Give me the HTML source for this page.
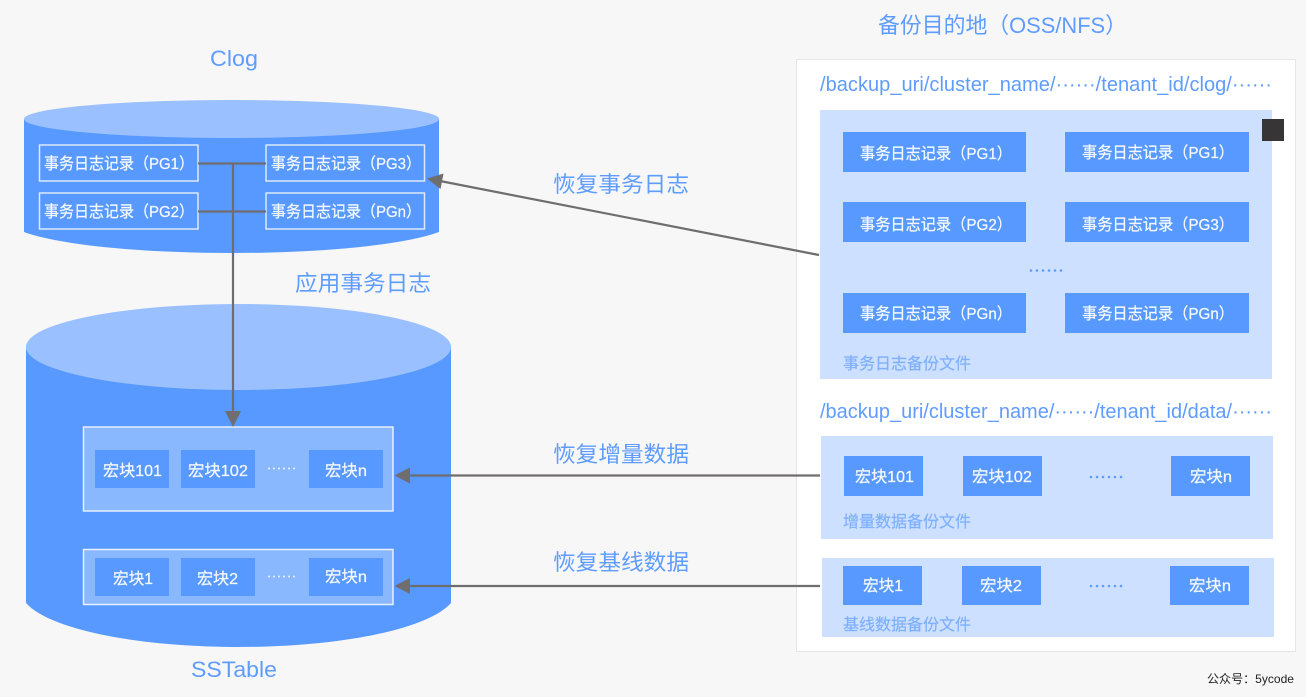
<!DOCTYPE html>
<html lang="zh">
<head>
<meta charset="utf-8">
<style>
html,body{margin:0;padding:0;background:#f7f7f7;width:1306px;height:697px;overflow:hidden}
svg{display:block;filter:blur(.35px)}
text{font-family:"Liberation Sans","Noto Sans CJK SC",sans-serif}
.t{fill:#5f9cff;font-size:22px}
.w{fill:#f4f8ff;font-size:16px;stroke:#f4f8ff;stroke-width:.25}
.c{fill:#7fb0ff;font-size:16px;stroke:#7fb0ff;stroke-width:.2}
.b{fill:#5799ff}
.o{fill:none;stroke:#dce9ff;stroke-width:1.5}
.l{stroke:#6f6d6d;stroke-width:2.2;fill:none}
.h{fill:#6f6d6d}
.p{fill:#cde0ff}
</style>
</head>
<body>
<svg width="1306" height="697" viewBox="0 0 1306 697" xmlns="http://www.w3.org/2000/svg">
<rect width="1306" height="697" fill="#f7f7f7"/>

<!-- Clog cylinder -->
<path class="b" d="M24 119V232C60 245 140 253 231.500 253S403 245 439 232V119Z"/>
<ellipse cx="231.500" cy="119" rx="207.500" ry="19" fill="#9bc0ff"/>
<g class="o">
<rect x="39.500" y="145" width="158.500" height="36"/>
<rect x="39.500" y="193" width="158.500" height="36"/>
<rect x="266" y="145" width="158.500" height="36"/>
<rect x="266" y="193" width="158.500" height="36"/>
</g>
<text class="w" x="44" y="169" textLength="150" lengthAdjust="spacingAndGlyphs">事务日志记录（PG1）</text>
<text class="w" x="44" y="217" textLength="150" lengthAdjust="spacingAndGlyphs">事务日志记录（PG2）</text>
<text class="w" x="271" y="169" textLength="150" lengthAdjust="spacingAndGlyphs">事务日志记录（PG3）</text>
<text class="w" x="271" y="217" textLength="150" lengthAdjust="spacingAndGlyphs">事务日志记录（PGn）</text>

<!-- SSTable cylinder -->
<path class="b" d="M26 347V603C50 630 140 647 238.500 647S427 630 451 603V347Z"/>
<ellipse cx="238.500" cy="347" rx="212.500" ry="43" fill="#9bc0ff"/>
<rect x="83.500" y="427" width="309.500" height="84" fill="#8ab8ff" stroke="#e6f0ff" stroke-width="1.500"/>
<rect x="83.500" y="549.500" width="309.500" height="55" fill="#8ab8ff" stroke="#e6f0ff" stroke-width="1.500"/>
<g class="b">
<rect x="95" y="450" width="74" height="38"/>
<rect x="181" y="450" width="74" height="38"/>
<rect x="309" y="450" width="74" height="38"/>
<rect x="95" y="558" width="74" height="38"/>
<rect x="181" y="558" width="74" height="38"/>
<rect x="309" y="558" width="74" height="38"/>
</g>
<g>
<text class="w" x="103" y="476" textLength="59" lengthAdjust="spacingAndGlyphs">宏块101</text>
<text class="w" x="188" y="476" textLength="60" lengthAdjust="spacingAndGlyphs">宏块102</text>
<text class="w" x="325" y="476" textLength="42" lengthAdjust="spacingAndGlyphs">宏块n</text>
<text class="w" x="113" y="584" textLength="40" lengthAdjust="spacingAndGlyphs">宏块1</text>
<text class="w" x="197" y="584" textLength="41" lengthAdjust="spacingAndGlyphs">宏块2</text>
<text class="w" x="325" y="582" textLength="42" lengthAdjust="spacingAndGlyphs">宏块n</text>
</g>
<g fill="#eef4ff">
<circle cx="269" cy="468.500" r="1"/><circle cx="274" cy="468.500" r="1"/><circle cx="279" cy="468.500" r="1"/><circle cx="284" cy="468.500" r="1"/><circle cx="289" cy="468.500" r="1"/><circle cx="294" cy="468.500" r="1"/>
<circle cx="269" cy="576.500" r="1"/><circle cx="274" cy="576.500" r="1"/><circle cx="279" cy="576.500" r="1"/><circle cx="284" cy="576.500" r="1"/><circle cx="289" cy="576.500" r="1"/><circle cx="294" cy="576.500" r="1"/>
</g>

<!-- Right panel -->
<rect x="796.500" y="59.500" width="499" height="592" fill="#fff" stroke="#cfcfcf" stroke-width="1" stroke-dasharray="1 1"/>
<text class="t" x="820" y="91" style="font-size:20px" textLength="452" lengthAdjust="spacingAndGlyphs">/backup_uri/cluster_name/······/tenant_id/clog/······</text>
<text class="t" x="820" y="418" style="font-size:20px" textLength="452" lengthAdjust="spacingAndGlyphs">/backup_uri/cluster_name/······/tenant_id/data/······</text>

<rect class="p" x="820" y="110" width="452" height="269"/>
<rect class="p" x="821" y="436" width="452" height="103"/>
<rect class="p" x="822" y="558" width="452" height="79"/>
<rect x="1262" y="119" width="22" height="22" fill="#373535"/>

<g class="b">
<rect x="843" y="132" width="183" height="40"/>
<rect x="1065" y="132" width="184" height="40"/>
<rect x="843" y="202" width="183" height="40"/>
<rect x="1065" y="202" width="184" height="40"/>
<rect x="843" y="293" width="183" height="40"/>
<rect x="1065" y="293" width="184" height="40"/>
<rect x="844" y="456" width="79" height="40"/>
<rect x="963" y="456" width="79" height="40"/>
<rect x="1171" y="456" width="79" height="40"/>
<rect x="843" y="566" width="79" height="39"/>
<rect x="962" y="566" width="79" height="39"/>
<rect x="1170" y="566" width="79" height="39"/>
</g>
<g>
<text class="w" x="860" y="159" textLength="152" lengthAdjust="spacingAndGlyphs">事务日志记录（PG1）</text>
<text class="w" x="1082" y="158" textLength="152" lengthAdjust="spacingAndGlyphs">事务日志记录（PG1）</text>
<text class="w" x="860" y="230" textLength="152" lengthAdjust="spacingAndGlyphs">事务日志记录（PG2）</text>
<text class="w" x="1082" y="230" textLength="152" lengthAdjust="spacingAndGlyphs">事务日志记录（PG3）</text>
<text class="w" x="860" y="319" textLength="152" lengthAdjust="spacingAndGlyphs">事务日志记录（PGn）</text>
<text class="w" x="1082" y="319" textLength="152" lengthAdjust="spacingAndGlyphs">事务日志记录（PGn）</text>
<text class="w" x="855" y="482" textLength="59" lengthAdjust="spacingAndGlyphs">宏块101</text>
<text class="w" x="972" y="482" textLength="60" lengthAdjust="spacingAndGlyphs">宏块102</text>
<text class="w" x="1190" y="482" textLength="42" lengthAdjust="spacingAndGlyphs">宏块n</text>
<text class="w" x="863" y="591" textLength="40" lengthAdjust="spacingAndGlyphs">宏块1</text>
<text class="w" x="980" y="591" textLength="42" lengthAdjust="spacingAndGlyphs">宏块2</text>
<text class="w" x="1189" y="591" textLength="42" lengthAdjust="spacingAndGlyphs">宏块n</text>
</g>
<g>
<text class="c" x="843" y="369" textLength="128" lengthAdjust="spacingAndGlyphs">事务日志备份文件</text>
<text class="c" x="843" y="527" textLength="128" lengthAdjust="spacingAndGlyphs">增量数据备份文件</text>
<text class="c" x="843" y="630" textLength="128" lengthAdjust="spacingAndGlyphs">基线数据备份文件</text>
</g>
<g fill="#5f9cff">
<circle cx="1031" cy="270.500" r="1.300"/><circle cx="1037" cy="270.500" r="1.300"/><circle cx="1043" cy="270.500" r="1.300"/><circle cx="1049" cy="270.500" r="1.300"/><circle cx="1055" cy="270.500" r="1.300"/><circle cx="1061" cy="270.500" r="1.300"/>
<circle cx="1091" cy="477" r="1.300"/><circle cx="1097" cy="477" r="1.300"/><circle cx="1103" cy="477" r="1.300"/><circle cx="1109" cy="477" r="1.300"/><circle cx="1115" cy="477" r="1.300"/><circle cx="1121" cy="477" r="1.300"/>
<circle cx="1091" cy="586" r="1.300"/><circle cx="1097" cy="586" r="1.300"/><circle cx="1103" cy="586" r="1.300"/><circle cx="1109" cy="586" r="1.300"/><circle cx="1115" cy="586" r="1.300"/><circle cx="1121" cy="586" r="1.300"/>
</g>

<!-- Connectors -->
<path class="l" d="M198 163.500H266M198 211.500H266M233 163.500V414"/>
<path class="h" d="M233 427L225 411H241Z"/>
<path class="l" d="M819 255L440 181"/>
<path class="h" d="M427 178.500L443.500 173.500L440.500 189Z"/>
<path class="l" d="M820 475.500H408"/>
<path class="h" d="M394.500 475.500L410 467.500V483.500Z"/>
<path class="l" d="M820 586H408"/>
<path class="h" d="M394.500 586L410 578V594Z"/>

<!-- Titles -->
<text class="t" x="210" y="66" textLength="48" lengthAdjust="spacingAndGlyphs">Clog</text>
<text class="t" x="878" y="33" textLength="249" lengthAdjust="spacingAndGlyphs">备份目的地（OSS/NFS）</text>
<text class="t" x="553" y="192" textLength="136" lengthAdjust="spacingAndGlyphs">恢复事务日志</text>
<text class="t" x="295" y="291" textLength="136" lengthAdjust="spacingAndGlyphs">应用事务日志</text>
<text class="t" x="553" y="462" textLength="136" lengthAdjust="spacingAndGlyphs">恢复增量数据</text>
<text class="t" x="553" y="570" textLength="136" lengthAdjust="spacingAndGlyphs">恢复基线数据</text>
<text class="t" x="191" y="677" textLength="86" lengthAdjust="spacingAndGlyphs">SSTable</text>
<text x="1207" y="683" fill="#222" font-size="12" textLength="87" lengthAdjust="spacingAndGlyphs">公众号：5ycode</text>
</svg>
</body>
</html>
